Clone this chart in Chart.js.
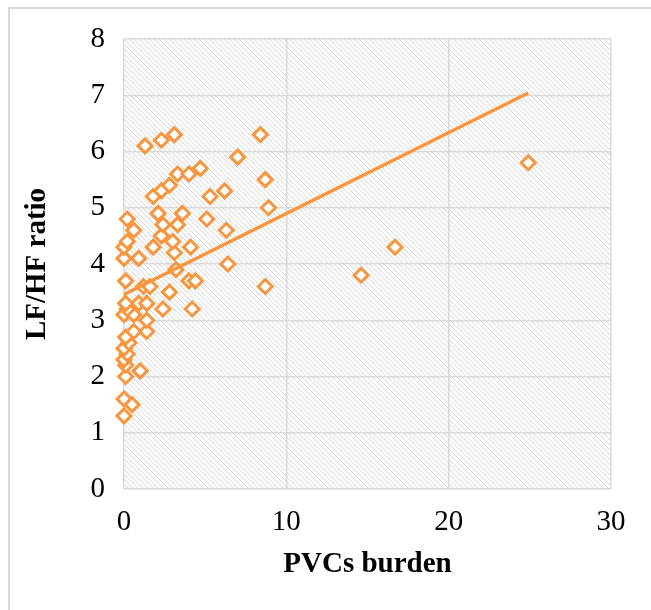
<!DOCTYPE html>
<html>
<head>
<meta charset="utf-8">
<script src="https://cdn.jsdelivr.net/npm/chart.js@4"></script>
<style>
    body { margin: 0; background: #fff; }
    #wrap { position: relative; width: 651px; height: 610px; overflow: hidden; }
    #frame { position: absolute; left: 8px; top: 7px; width: 660px; height: 640px; border: 2px solid #d9d9d9; }
    #chart { position: absolute; left: 0; top: 0; }
</style>
</head>
<body>
<div id="wrap">
    <div id="frame"></div>
    <canvas id="chart" width="651" height="610"></canvas>
</div>
<script>
// Datos
const pvcBurden = [
    0, 0, 0.5, 0.1, 1.0, 0.1, 0, 0.2, 0, 0.3,
    0.1, 0.6, 1.4, 1.4, 0, 0.6, 0.2, 0.9, 1.4, 2.4,
    4.2, 0.1, 2.8, 1.2, 1.6, 0.1, 4.0, 4.4, 8.7, 3.2,
    14.6, 6.4, 0, 0.9, 3.1, 0, 1.8, 4.1, 16.7, 0.2,
    3.0, 2.3, 0.6, 6.3, 2.4, 3.3, 0.2, 5.1, 2.1, 3.6,
    8.9, 1.8, 5.3, 2.3, 6.2, 2.8, 8.7, 3.3, 4.0, 4.7,
    24.9, 7.0, 1.3, 2.3, 3.1, 8.4
];
const lfHfRatio = [
    1.3, 1.6, 1.5, 2.0, 2.1, 2.2, 2.3, 2.4, 2.5, 2.6,
    2.7, 2.8, 2.8, 3.0, 3.1, 3.1, 3.2, 3.3, 3.3, 3.2,
    3.2, 3.3, 3.5, 3.6, 3.6, 3.7, 3.7, 3.7, 3.6, 3.9,
    3.8, 4.0, 4.1, 4.1, 4.2, 4.3, 4.3, 4.3, 4.3, 4.4,
    4.4, 4.5, 4.6, 4.6, 4.7, 4.7, 4.8, 4.8, 4.9, 4.9,
    5.0, 5.2, 5.2, 5.3, 5.3, 5.4, 5.5, 5.6, 5.6, 5.7,
    5.8, 5.9, 6.1, 6.2, 6.3, 6.3
];
// Línea de tendencia (extremos)
const trendX = [0, 24.9];
const trendY = [3.46, 7.04];

const xTicks = [0, 10, 20, 30];
const yTicks = [0, 1, 2, 3, 4, 5, 6, 7, 8];

const naranja = '#F8963F';
const gris = '#d9d9d9';
const fuente = '"Liberation Serif", "Times New Roman", serif';

// Patrón rayado del área de trazado
function makeHatch() {
    const c = document.createElement('canvas');
    c.width = 5;
    c.height = 5;
    const g = c.getContext('2d');
    g.strokeStyle = '#d6d6d6';
    g.lineWidth = 1;
    g.beginPath();
    g.moveTo(-1, -1); g.lineTo(6, 6);
    g.moveTo(-6, -1); g.lineTo(1, 6);
    g.moveTo(4, -1); g.lineTo(11, 6);
    g.stroke();
    return g.createPattern(c, 'repeat');
}

const hatchPlugin = {
    id: 'hatch',
    beforeDraw(chart) {
        const { ctx, chartArea: a } = chart;
        ctx.save();
        ctx.fillStyle = makeHatch();
        ctx.fillRect(a.left, a.top, a.right - a.left, a.bottom - a.top);
        ctx.restore();
    }
};

const puntos = pvcBurden.map((x, i) => ({ x: x, y: lfHfRatio[i] }));
const tendencia = trendX.map((x, i) => ({ x: x, y: trendY[i] }));

new Chart(document.getElementById('chart'), {
    type: 'scatter',
    data: {
        datasets: [{
            label: 'LF/HF',
            data: puntos,
            pointStyle: 'rectRot',
            pointRadius: 7,
            pointBorderWidth: 3,
            pointBorderColor: naranja,
            pointBackgroundColor: '#fff',
            clip: false,
            order: 2
        }, {
            type: 'line',
            label: 'Tendencia',
            data: tendencia,
            borderColor: naranja,
            borderWidth: 3.5,
            pointRadius: 0,
            fill: false,
            order: 1
        }]
    },
    options: {
        responsive: false,
        animation: false,
        devicePixelRatio: 1,
        layout: { padding: { left: 10, top: 39, right: 40, bottom: 0 } },
        plugins: { legend: { display: false }, tooltip: { enabled: false } },
        scales: {
            x: {
                type: 'linear',
                min: 0,
                max: 30,
                afterBuildTicks: s => { s.ticks = xTicks.map(v => ({ value: v })); },
                afterFit: s => { s.height = 121; },
                grid: { color: gris, lineWidth: 1.5, drawTicks: false },
                border: { display: false },
                ticks: { color: '#000', padding: 16, font: { family: fuente, size: 29 } },
                title: {
                    display: true,
                    text: 'PVCs burden',
                    color: '#000',
                    font: { family: fuente, size: 29, weight: 'bold', lineHeight: 1.2 },
                    padding: { top: 0, bottom: 28 }
                }
            },
            y: {
                min: 0,
                max: 8,
                afterBuildTicks: s => { s.ticks = yTicks.map(v => ({ value: v })); },
                afterFit: s => { s.width = 114; },
                grid: { color: gris, lineWidth: 1.5, drawTicks: false },
                border: { display: false },
                ticks: { color: '#000', padding: 19, font: { family: fuente, size: 29 } },
                title: {
                    display: true,
                    text: 'LF/HF ratio',
                    color: '#000',
                    font: { family: fuente, size: 29, weight: 'bold', lineHeight: 1.2 },
                    padding: { top: 10, bottom: 0 }
                }
            }
        }
    },
    plugins: [hatchPlugin]
});
</script>
</body>
</html>
